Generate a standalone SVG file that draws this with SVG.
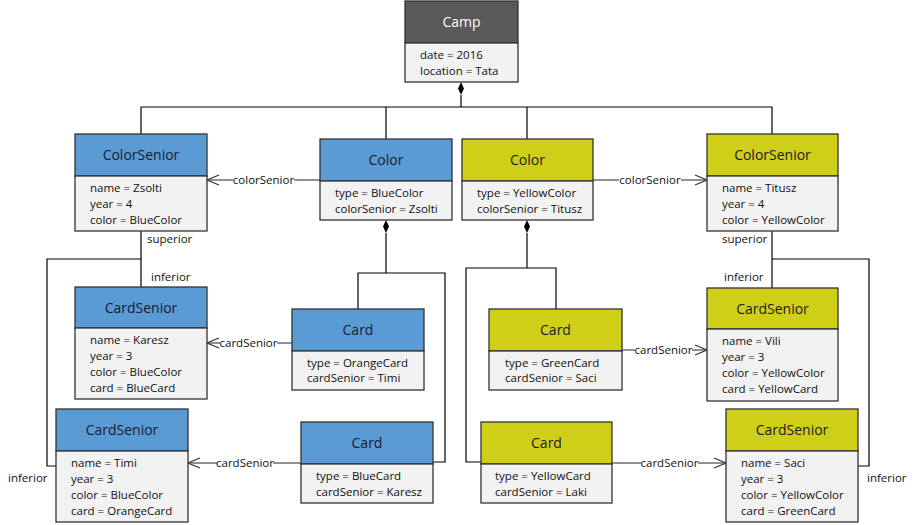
<svg xmlns="http://www.w3.org/2000/svg" width="915" height="525" viewBox="0 0 915 525">
<style>
.hd{stroke:#333;stroke-width:1.3}
.bd{fill:#f2f2f2;stroke:#333;stroke-width:1.3}
.blue{fill:#5b9bd5}
.yel{fill:#cfcf17}
.dark{fill:#595959}
.t{font-family:"Open Sans","DejaVu Sans",sans-serif;font-size:14px;fill:#1a1a2e;text-anchor:middle}
.tw{fill:#ffffff}
.a{font-family:"Open Sans","DejaVu Sans",sans-serif;font-size:11.5px;fill:#111}
.lbl{font-family:"Open Sans","DejaVu Sans",sans-serif;font-size:11.5px;fill:#111}
.comp{fill:none;stroke:#000;stroke-width:1.2}
.assoc{fill:none;stroke:#555;stroke-width:1.3}
.ah{fill:none;stroke:#333;stroke-width:1.2}
</style>
<defs>
<marker id="open" markerWidth="14" markerHeight="12" refX="13" refY="6" orient="auto" markerUnits="userSpaceOnUse">
<path d="M1,1 L13,6 L1,11" class="ah"/>
</marker>
</defs>
<rect width="915" height="525" fill="#ffffff"/>
<g id="connectors">
<!-- Camp composition -->
<polyline class="comp" points="141,134 141,107 772,107 772,134"/>
<line class="comp" x1="386" y1="107" x2="386" y2="139"/>
<line class="comp" x1="527" y1="107" x2="527" y2="139"/>
<line class="comp" x1="461" y1="95" x2="461" y2="107"/>
<path d="M461,82 L464,88.5 L461,95 L458,88.5 Z" fill="#000"/>
<!-- blue Color composition -->
<path d="M386,220 L389,226.5 L386,233 L383,226.5 Z" fill="#000"/>
<line class="comp" x1="386" y1="233" x2="386" y2="273"/>
<polyline class="comp" points="358,309 358,273 445,273 445,462 433,462"/>
<!-- yellow Color composition -->
<path d="M527,220 L530,226.5 L527,233 L524,226.5 Z" fill="#000"/>
<line class="comp" x1="527" y1="233" x2="527" y2="268"/>
<polyline class="comp" points="556,309 556,268 466,268 466,462 481,462"/>
<!-- superior/inferior left -->
<line class="comp" x1="141" y1="231" x2="141" y2="287"/>
<polyline class="comp" points="141,259 47,259 47,466 56,466"/>
<!-- superior/inferior right -->
<line class="comp" x1="772" y1="231" x2="772" y2="288"/>
<polyline class="comp" points="772,259 869,259 869,466 858,466"/>
<!-- colorSenior associations -->
<line class="assoc" x1="320" y1="180" x2="294" y2="180"/>
<line class="assoc" x1="233" y1="180" x2="207" y2="180" marker-end="url(#open)"/>
<text class="lbl" x="263.5" y="184" text-anchor="middle">colorSenior</text>
<line class="assoc" x1="593" y1="180" x2="619" y2="180"/>
<line class="assoc" x1="681" y1="180" x2="707" y2="180" marker-end="url(#open)"/>
<text class="lbl" x="650" y="184" text-anchor="middle">colorSenior</text>
<!-- cardSenior associations -->
<line class="assoc" x1="292" y1="343" x2="277" y2="343"/>
<line class="assoc" x1="220" y1="343" x2="207" y2="343" marker-end="url(#open)"/>
<text class="lbl" x="248.5" y="347" text-anchor="middle">cardSenior</text>
<line class="assoc" x1="301" y1="463" x2="273" y2="463"/>
<line class="assoc" x1="217" y1="463" x2="188" y2="463" marker-end="url(#open)"/>
<text class="lbl" x="245" y="467" text-anchor="middle">cardSenior</text>
<line class="assoc" x1="622" y1="350" x2="635" y2="350"/>
<line class="assoc" x1="692" y1="350" x2="707" y2="350" marker-end="url(#open)"/>
<text class="lbl" x="663.5" y="354" text-anchor="middle">cardSenior</text>
<line class="assoc" x1="612" y1="463" x2="641" y2="463"/>
<line class="assoc" x1="698" y1="463" x2="726" y2="463" marker-end="url(#open)"/>
<text class="lbl" x="669.5" y="467" text-anchor="middle">cardSenior</text>
<!-- role labels -->
<text class="lbl" x="147" y="243">superior</text>
<text class="lbl" x="151" y="281">inferior</text>
<text class="lbl" x="8" y="482">inferior</text>
<text class="lbl" x="722" y="243">superior</text>
<text class="lbl" x="724" y="281">inferior</text>
<text class="lbl" x="867" y="482">inferior</text>
</g>
<g id="camp">
<rect class="hd dark" x="405" y="1" width="113" height="42"/>
<rect class="bd" x="405" y="43" width="113" height="39"/>
<text class="t tw" x="461.5" y="27">Camp</text>
<text class="a" x="420" y="59">date = 2016</text>
<text class="a" x="420" y="75">location = Tata</text>
</g>
<g id="colorsenior-zsolti">
<rect class="hd blue" x="75" y="134" width="132" height="42"/>
<rect class="bd" x="75" y="176" width="132" height="55"/>
<text class="t" x="141" y="160">ColorSenior</text>
<text class="a" x="90" y="192">name = Zsolti</text>
<text class="a" x="90" y="208">year = 4</text>
<text class="a" x="90" y="224">color = BlueColor</text>
</g>
<g id="color-blue">
<rect class="hd blue" x="320" y="139" width="132" height="42"/>
<rect class="bd" x="320" y="181" width="132" height="39"/>
<text class="t" x="386" y="165">Color</text>
<text class="a" x="335" y="197">type = BlueColor</text>
<text class="a" x="335" y="213">colorSenior = Zsolti</text>
</g>
<g id="color-yellow">
<rect class="hd yel" x="462" y="139" width="131" height="42"/>
<rect class="bd" x="462" y="181" width="131" height="39"/>
<text class="t" x="527.5" y="165">Color</text>
<text class="a" x="477" y="197">type = YellowColor</text>
<text class="a" x="477" y="213">colorSenior = Titusz</text>
</g>
<g id="colorsenior-titusz">
<rect class="hd yel" x="707" y="134" width="131" height="42"/>
<rect class="bd" x="707" y="176" width="131" height="55"/>
<text class="t" x="772.5" y="160">ColorSenior</text>
<text class="a" x="722" y="192">name = Titusz</text>
<text class="a" x="722" y="208">year = 4</text>
<text class="a" x="722" y="224">color = YellowColor</text>
</g>
<g id="cardsenior-karesz">
<rect class="hd blue" x="75" y="287" width="132" height="41"/>
<rect class="bd" x="75" y="328" width="132" height="71"/>
<text class="t" x="141" y="313">CardSenior</text>
<text class="a" x="90" y="344">name = Karesz</text>
<text class="a" x="90" y="360">year = 3</text>
<text class="a" x="90" y="376">color = BlueColor</text>
<text class="a" x="90" y="392">card = BlueCard</text>
</g>
<g id="card-orange">
<rect class="hd blue" x="292" y="309" width="132" height="42"/>
<rect class="bd" x="292" y="351" width="132" height="39"/>
<text class="t" x="358" y="335">Card</text>
<text class="a" x="307" y="367">type = OrangeCard</text>
<text class="a" x="307" y="382">cardSenior = Timi</text>
</g>
<g id="cardsenior-timi">
<rect class="hd blue" x="56" y="409" width="132" height="42"/>
<rect class="bd" x="56" y="451" width="132" height="71"/>
<text class="t" x="122" y="435">CardSenior</text>
<text class="a" x="71" y="467">name = Timi</text>
<text class="a" x="71" y="483">year = 3</text>
<text class="a" x="71" y="499">color = BlueColor</text>
<text class="a" x="71" y="515">card = OrangeCard</text>
</g>
<g id="card-blue">
<rect class="hd blue" x="301" y="422" width="132" height="42"/>
<rect class="bd" x="301" y="464" width="132" height="39"/>
<text class="t" x="367" y="448">Card</text>
<text class="a" x="316" y="480">type = BlueCard</text>
<text class="a" x="316" y="496">cardSenior = Karesz</text>
</g>
<g id="card-green">
<rect class="hd yel" x="489" y="309" width="133" height="42"/>
<rect class="bd" x="489" y="351" width="133" height="39"/>
<text class="t" x="555.5" y="335">Card</text>
<text class="a" x="505" y="367">type = GreenCard</text>
<text class="a" x="505" y="382">cardSenior = Saci</text>
</g>
<g id="cardsenior-vili">
<rect class="hd yel" x="707" y="288" width="131" height="41"/>
<rect class="bd" x="707" y="329" width="131" height="72"/>
<text class="t" x="772.5" y="314">CardSenior</text>
<text class="a" x="722" y="345">name = Vili</text>
<text class="a" x="722" y="361">year = 3</text>
<text class="a" x="722" y="377">color = YellowColor</text>
<text class="a" x="722" y="393">card = YellowCard</text>
</g>
<g id="card-yellow">
<rect class="hd yel" x="481" y="422" width="131" height="42"/>
<rect class="bd" x="481" y="464" width="131" height="39"/>
<text class="t" x="546.5" y="448">Card</text>
<text class="a" x="495" y="480">type = YellowCard</text>
<text class="a" x="495" y="496">cardSenior = Laki</text>
</g>
<g id="cardsenior-saci">
<rect class="hd yel" x="726" y="409" width="132" height="42"/>
<rect class="bd" x="726" y="451" width="132" height="71"/>
<text class="t" x="792" y="435">CardSenior</text>
<text class="a" x="741" y="467">name = Saci</text>
<text class="a" x="741" y="483">year = 3</text>
<text class="a" x="741" y="499">color = YellowColor</text>
<text class="a" x="741" y="515">card = GreenCard</text>
</g>
</svg>
